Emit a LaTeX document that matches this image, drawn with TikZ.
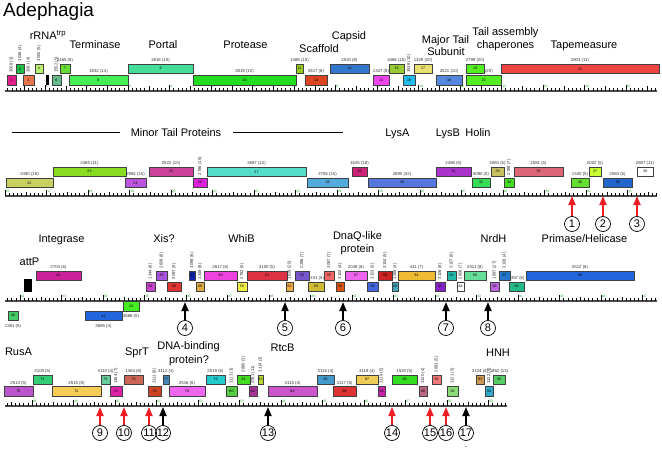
\documentclass[tikz,border=0pt]{standalone}
\usepackage{fontspec}
\setmainfont{Liberation Sans}
\usetikzlibrary{arrows.meta}
\definecolor{arrred}{HTML}{EE1C24}
\definecolor{kbpgreen}{HTML}{33AA33}

\begin{document}
\begin{tikzpicture}[x=1pt, y=-1pt,
    gene/.style={draw=black!75, line width=0.6pt},
    gnum/.style={font=\fontsize{3.6}{4}\selectfont, inner sep=0pt},
    glab/.style={font=\fontsize{4.3}{5}\selectfont, inner sep=0pt, text=black!80},
    func/.style={font=\fontsize{11}{12}\selectfont, anchor=base, inner sep=0pt},
    tick/.style={line width=0.45pt},
    kbp/.style={font=\fontsize{3.4}{4}\selectfont, text=kbpgreen, anchor=west, inner sep=0pt},
    circ/.style={circle, draw, line width=0.7pt, minimum size=15pt, inner sep=0pt, font=\fontsize{11}{12}\selectfont},
    arr/.style={line width=1.7pt, -{Triangle[width=7pt,length=9pt]}}]
\useasboundingbox (0,0) rectangle (662,452);

% title and gene functions
\node[anchor=base west, inner sep=0pt, font=\fontsize{19}{20}\selectfont] (ttl) at (3,16.7) {Adephagia};
\node[func] (rrna) at (48,39.3) {rRNA\textsuperscript{trp}};
\node[func] (term) at (95,48.3) {Terminase};
\node[func] (port) at (163,48.3) {Portal};
\node[func] (prot) at (245.5,48.3) {Protease};
\node[func] (scaf) at (319,52.7) {Scaffold};
\node[func] (caps) at (349,40) {Capsid};
\node[func] (mts1) at (445.5,43.5) {Major Tail};
\node[func] (mts2) at (446,56) {Subunit};
\node[func] (chap1) at (505.5,36) {Tail assembly};
\node[func] (chap2) at (505.5,48.3) {chaperones};
\node[func] (tape) at (584,48.3) {Tapemeasure};

\node[func] (mtp) at (176,136) {Minor Tail Proteins};
\draw[line width=0.6pt] ([xshift=-11pt]mtp.west) -- ([xshift=-119pt]mtp.west);
\draw[line width=0.6pt] ([xshift=12pt]mtp.east) -- ([xshift=122pt]mtp.east);
\node[func] (lysa) at (397.5,136) {LysA};
\node[func] (lysb) at (448,136) {LysB};
\node[func] (hol) at (478,136) {Holin};

\node[func] (int) at (61.5,242.3) {Integrase};
\node[func] (xis) at (164,242.3) {Xis?};
\node[func] (whib) at (241.5,242.3) {WhiB};
\node[func] (dnaq1) at (357.5,239.3) {DnaQ-like};
\node[func] (dnaq2) at (357.5,252.7) {protein};
\node[func] (nrdh) at (493.5,242.3) {NrdH};
\node[func] (prim) at (584.5,242.3) {Primase/Helicase};
\node[func] (attp) at (29.5,265) {attP};

\node[func] (rusa) at (18.5,355) {RusA};
\node[func] (sprt) at (137,355) {SprT};
\node[func] (dnab1) at (188.5,349) {DNA-binding};
\node[func] (dnab2) at (189,363) {protein?};
\node[func] (rtcb) at (282.5,351) {RtcB};
\node[func] (hnh) at (498,356) {HNH};

% rulers
\foreach \yb/\xo/\ia/\ib/\kf/\xe in {91/3.5/1/157/0/657, 196/5/0/157/16/657, 301/20/-3/153/32/657, 406/32/-6/114/48/507}{
  \draw[line width=1.1pt, black!70] (5,\yb) -- (\xe,\yb);
  \foreach \i in {\ia,...,\ib}{
    \pgfmathsetmacro\xt{\xo+4.15*\i}
    \pgfmathtruncatemacro\m{Mod(\i,10)}
    \ifnum\m=0
      \draw[tick] (\xt,\yb) -- (\xt,\yb-6);
      \pgfmathtruncatemacro\kn{\kf+\i/10}
      \node[kbp] (k\kn) at (\xt+0.6,\yb-4.3) {\kn};
    \else\ifnum\m=5
      \draw[tick] (\xt,\yb) -- (\xt,\yb-4.5);
    \else
      \draw[tick] (\xt,\yb) -- (\xt,\yb-3);
    \fi\fi
  }
}

% genes, lower boxes before upper ones
\fill (46,75.5) rectangle (49,85);
\fill (24,279) rectangle (32,292);
\foreach \gn/\xa/\xb/\yt/\col/\lb/\rot in {
  1/7/16/75.5/E0208A/{3008 (3)}/v, 3/23/34/75.5/E8744A/{3091 (4)}/v,
  6/52/61/75.5/66BB88/{1552 (5)}/v, 8/69/128/75.5/44EE55/{1832 (14)}/h,
  10/193/296/75.5/22DD22/{2819 (10)}/h, 12/305/327/75.5/DD4422/{2617 (8)}/h,
  14/373/389/75.5/EE44EE/{1327 (8)}/h, 16/403/415/75.5/22BBEE/{1538 (10)}/v,
  18/436/462/75.5/5588DD/{2521 (10)}/h, 20/466/501/75.5/55EE22/{1862 (20)}/h,
  2/16/24/64/22BB44/{3046 (4)}/v, 4/35/43/64/B8F070/{3000 (5)}/v,
  7/60/70/64/66DD33/{2465 (8)}/h, 9/128/193/64/44DD99/{2818 (10)}/h,
  11/296/303/64/99CC22/{1388 (10)}/h, 13/330/369/64/3377CC/{2520 (8)}/h,
  15/389/404/64/99CC33/{3486 (15)}/h, 17/414/432/64/E8E070/{1329 (10)}/h,
  19/466/484/64/55EE22/{2799 (20)}/h, 21/501/659/64/EE4444/{2803 (11)}/h,
  22/6/53/178/C8D060/{2490 (18)}/h, 24/125/146/178/BB55DD/{2994 (15)}/h,
  26/193/207/178/DD22DD/{2786 (15)}/v, 28/307/348/178/55AADD/{2755 (15)}/h,
  30/368/436/178/5577DD/{2890 (32)}/h, 32/472/490/178/33DD55/{3090 (5)}/h,
  34/504/514/178/44DD22/{2788 (7)}/v, 36/571/589/178/66DD33/{1340 (5)}/h,
  38/603/632/178/2266CC/{2584 (5)}/h,
  23/53/126/167/88DD22/{2465 (11)}/h, 25/149/193/167/CC4499/{2522 (10)}/h,
  27/207/306/167/55DDCC/{2687 (12)}/h, 29/352/367/167/CC2277/{1625 (18)}/h,
  31/436/471/167/AA33CC/{2496 (5)}/h, 33/491/504/167/C8C060/{3084 (5)}/h,
  35/514/563/167/DD6677/{2581 (5)}/h, 37/589/601/167/CCFF33/{2002 (5)}/h,
  39/637/653/167/FFFFFF/{2887 (11)}/h,
  44/146/155/282/CC44CC/{1344 (6)}/v, 46/167/181/282/DD3333/{3097 (5)}/v,
  48/196/204/282/DDAA44/{1348 (6)}/v, 50/237/247/282/EEEE44/{2782 (5)}/v,
  52/286/293/282/EEAA44/{1628 (20)}/v, 54/308/324/282/CCBB33/{3101 (5)}/h,
  56/336/344/282/DD5511/{3102 (4)}/v, 58/367/378/282/4466DD/{3103 (5)}/v,
  60/392/398/282/44AABB/{1268 (4)}/v, 62/435/445/282/8822CC/{3106 (8)}/v,
  64/457/464/282/FFFFFF/{2808 (7)}/v, 66/490/499/282/BB66DD/{1897 (27)}/v,
  68/509/524/282/22BB88/{1357 (6)}/h,
  41/36/81/271/CC2299/{2704 (6)}/h, 45/156/167/271/AA55DD/{2608 (6)}/v,
  47/189/195/271/1122AA/{3098 (6)}/v, 49/204/237/271/EE44DD/{2617 (6)}/h,
  51/247/287/271/DD3344/{3100 (5)}/h, 53/295/309/271/7755CC/{2286 (7)}/v,
  55/324/334/271/EE6666/{3087 (7)}/v, 57/345/367/271/EE66EE/{2048 (6)}/h,
  59/378/392/271/CC2222/{3104 (5)}/v, 61/398/435/271/EEBB33/{441 (7)}/h,
  63/447/456/271/22BBAA/{3107 (8)}/v, 65/464/486/271/66DD99/{2511 (8)}/h,
  67/499/510/271/2277CC/{3108 (4)}/v, 69/526/634/271/2266DD/{2512 (6)}/h,
  70/4/33/386.5/BB55CC/{2513 (5)}/h, 72/52/101/386.5/F5CC55/{2515 (8)}/h,
  74/110/122/386.5/DD22AA/{1364 (7)}/v, 76/148/161/386.5/CC4422/{3111 (8)}/v,
  78/169/205/386.5/EE66EE/{2516 (6)}/h, 80/226/237/386.5/55CC44/{3113 (3)}/v,
  82/249/257/386.5/AA3399/{2761 (11)}/v, 84/268/317/386.5/CC55CC/{3115 (4)}/h,
  86/333/356/386.5/DD3333/{3117 (5)}/h, 88/378/385/386.5/CC22AA/{3119 (5)}/v,
  90/419/427/386.5/BB6688/{3120 (4)}/v, 92/447/458/386.5/88DD77/{3121 (5)}/v,
  94/485/493/386.5/33AACC/{3122 (4)}/v,
  71/33/52/375/33CC77/{3105 (5)}/h, 73/101/110/375/66CC99/{3110 (4)}/h,
  75/124/143/375/CC6655/{1364 (8)}/h, 77/163/169/375/4488BB/{3112 (4)}/h,
  79/206/225/375/22CCCC/{2519 (6)}/h, 81/237/250/375/44DD22/{2880 (3)}/v,
  83/258/263/375/BBDD33/{3114 (3)}/v, 85/317/334/375/4499CC/{3116 (4)}/h,
  87/356/378/375/EECC55/{3118 (4)}/h, 89/392/417/375/33DD22/{1520 (5)}/h,
  91/432/441/375/EE7777/{2891 (5)}/v, 93/476/484/375/CC9955/{3124 (4)}/h,
  95/493/505/375/55CC66/{1862 (13)}/h}{
  \xdefinecolor{gc}{HTML}{\col}
  \draw[gene, fill=gc] (\xa,\yt) rectangle (\xb,\yt+9.5);
  \node[gnum] (g\gn) at ({(\xa+\xb)/2},\yt+4.75) {\gn};
  \if v\rot
    \node[glab, rotate=90, anchor=west] (l\gn) at ({(\xa+\xb)/2},\yt-2.5) {\lb};
  \else
    \node[glab, anchor=base] (l\gn) at ({(\xa+\xb)/2},\yt-2.5) {\lb};
  \fi
}
% genes on the other strand
\foreach \gn/\xa/\xb/\yt/\col/\lb in {40/8/18/311/44CC66/{1361 (5)},
  42/85/122/311/2266DD/{3685 (4)}, 43/123/139/301.5/44EE22/{3686 (5)}}{
  \xdefinecolor{gc}{HTML}{\col}
  \draw[gene, fill=gc] (\xa,\yt) rectangle (\xb,\yt+9.5);
  \node[gnum] (g\gn) at ({(\xa+\xb)/2},\yt+4.75) {\gn};
  \node[glab, anchor=north] (l\gn) at ({(\xa+\xb)/2},\yt+13) {\lb};
}

% numbered sites
\foreach \k/\x/\y/\tip/\cl in {1/572/224/196/arrred, 2/603/224/196/arrred, 3/637/224/196/arrred,
  4/185/328/302/black, 5/285/328/302/black, 6/343/328/302/black, 7/446/328/302/black, 8/488/328/302/black,
  9/100/433/407/arrred, 10/124/433/407/arrred, 11/149/433/407/arrred, 12/163/433/407/black,
  13/268/433/407/black, 14/392/433/407/arrred, 15/430/433/407/arrred, 16/446/433/407/arrred,
  17/466/433/407/black}{
  \node[circ] (c\k) at (\x,\y) {\k};
  \coordinate (t\k) at (\x,\tip);
  \draw[arr, \cl] (c\k) -- (t\k);
}
\node[inner sep=0pt, font=\fontsize{6}{6}\selectfont] (d17) at (466,448) {-};
\end{tikzpicture}
\end{document}
